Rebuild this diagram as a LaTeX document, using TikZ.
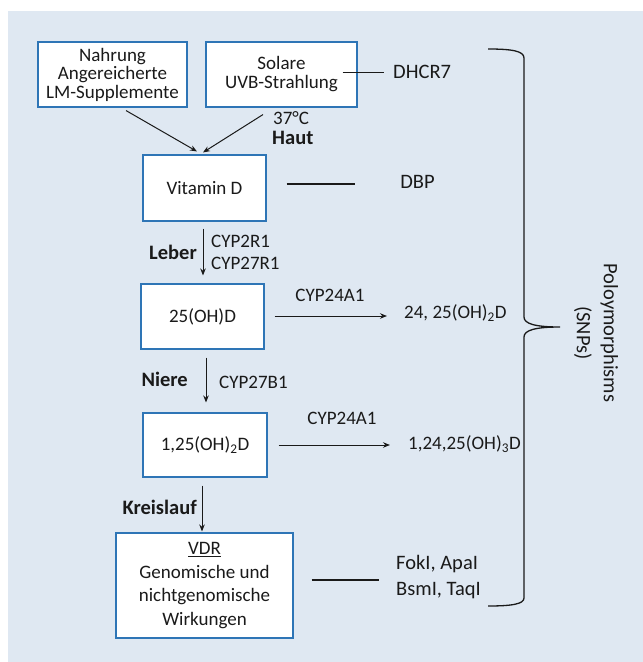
\documentclass[tikz,border=0pt]{standalone}
\usepackage{fontspec}
\setmainfont{Carlito}
\usetikzlibrary{arrows.meta}
\definecolor{bgblue}{HTML}{DFE8F2}
\definecolor{boxblue}{HTML}{2E75B6}
\definecolor{ink}{HTML}{1A1A1A}
\begin{document}
\begin{tikzpicture}[x=1pt,y=-1pt,
  every node/.style={text=ink},
  box/.style={draw=boxblue, fill=white, line width=1.1pt, inner sep=0pt, align=center,
    font=\fontsize{19}{18.5}\selectfont},
  lbl/.style={inner sep=0pt, font=\fontsize{19}{22}\selectfont, align=left},
  blbl/.style={inner sep=0pt, font=\fontsize{20.5}{22}\selectfont\bfseries},
  glbl/.style={inner sep=0pt, font=\fontsize{20.5}{26}\selectfont, align=left},
  arr/.style={draw=ink, line width=1pt, -{Stealth[length=7pt,width=5.5pt]}},
  bar/.style={draw=ink, line width=1.8pt},
  thin/.style={draw=ink, line width=1pt}]
\useasboundingbox (0,0) rectangle (643,662);
\fill[bgblue] (8,11) rectangle (643,662);

% boxes
\node[box, minimum width=149pt, minimum height=65pt] (nahrung) at (112.5,74.5)
  {Nahrung\\Angereicherte\\LM-Supplemente};
\node[box, minimum width=151pt, minimum height=65pt, font=\fontsize{19}{19}\selectfont] (solare) at (281.5,74.5)
  {Solare\\UVB-Strahlung};
\node[box, minimum width=123pt, minimum height=66pt] (vitd) at (204.5,188) {Vitamin D};
\node[box, minimum width=123pt, minimum height=65pt] (b25) at (202.5,316.5) {25(OH)D};
\node[box, minimum width=124pt, minimum height=64pt] (b125) at (205,445) {1,25(OH)\textsubscript{2}D};
\node[box, minimum width=177pt, minimum height=105pt, font=\fontsize{19}{23.4}\selectfont] (vdr) at (204.5,585.5)
  {\underline{VDR}\\Genomische und\\nichtgenomische\\Wirkungen};

% right-hand labels
\node[glbl, anchor=west] (dhcr) at (393,72) {DHCR7};
\node[glbl] (dbp) at (417.5,182) {DBP};
\node[lbl, anchor=west] (p2425) at (404,313) {24, 25(OH)\textsubscript{2}D};
\node[lbl, anchor=west] (p12425) at (408,444) {1,24,25(OH)\textsubscript{3}D};
\node[glbl, anchor=west] (snpl) at (396,577) {FokI, ApaI\\BsmI, TaqI};

% enzyme / organ labels
\node[lbl, anchor=west] (t37) at (273,118) {37°C};
\node[blbl, anchor=west] (haut) at (272,138) {Haut};
\node[blbl, anchor=east] (leber) at (197,252) {Leber};
\node[lbl, anchor=west] (cyp2r1) at (211,252) {CYP2R1\\CYP27R1};
\node[blbl, anchor=east] (niere) at (188,379) {Niere};
\node[lbl, anchor=west] (cyp27b1) at (219,382) {CYP27B1};
\node[blbl, anchor=east] (kreis) at (197,507) {Kreislauf};
\node[lbl] (cyp24a) at (330,295) {CYP24A1};
\node[lbl] (cyp24b) at (342,418) {CYP24A1};

% polymorphisms
\node[inner sep=0pt, rotate=-90, align=center, font=\fontsize{20.5}{27}\selectfont] (poly) at (596,333)
  {Poloymorphisms\\(SNPs)};

% arrows
\draw[arr] ([xshift=13.5pt,yshift=-3pt]nahrung.south) -- ([xshift=-7.5pt,yshift=3pt]vitd.north);
\draw[arr] ([xshift=-18.5pt,yshift=-7pt]solare.south) -- ([xshift=-1.5pt,yshift=2pt]vitd.north);
\draw[arr] ([xshift=-1.5pt,yshift=-7pt]vitd.south) -- ([xshift=0.5pt,yshift=8pt]b25.north);
\draw[arr] ([xshift=3.5pt,yshift=-8pt]b25.south) -- ([xshift=1pt,yshift=10pt]b125.north);
\draw[arr] ([xshift=-3pt,yshift=-8pt]b125.south) -- ([xshift=-2.5pt,yshift=1pt]vdr.north);
\draw[arr] ([xshift=10pt,yshift=0.5pt]b25.east) -- ([xshift=-17pt,yshift=0.5pt]b25.east -| p2425.west);
\draw[arr] ([xshift=11pt]b125.east) -- ([xshift=-18pt]b125.east -| p12425.west);

% plain lines
\draw[thin] ([xshift=-15pt,yshift=2.5pt]solare.east) -- ([xshift=-9pt]dhcr.west);
\draw[bar] ([xshift=20pt,yshift=4pt]vitd.east) -- ([xshift=-45pt,yshift=-2pt]dbp.west);
\draw[bar] ([xshift=18pt,yshift=5.5pt]vdr.east) -- ([xshift=-17pt,yshift=-3pt]snpl.west);

% brace
\draw[ink, line width=1.3pt] (488,49) .. controls (512,49) and (524,51) .. (524,58)
  -- (524,317) .. controls (524,324) and (536,327) .. (560,327)
  .. controls (536,327) and (524,330) .. (524,337)
  -- (524,598) .. controls (524,604) and (512,606) .. (488,606);
\end{tikzpicture}
\end{document}
